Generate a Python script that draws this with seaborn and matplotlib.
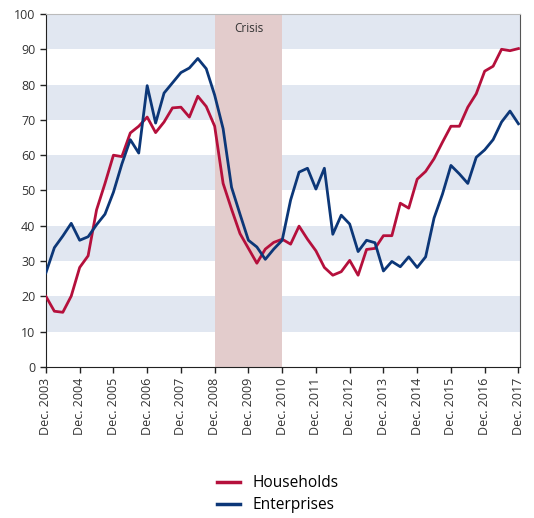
import pandas as pd
import matplotlib
matplotlib.use('Agg')
import matplotlib.pyplot as plt
import seaborn as sns

# quarterly values, Dec 2003 .. Dec 2017
years = list(range(2003, 2018))
households = [20.0, 15.8, 15.5, 20.1, 28.2, 31.5, 44.5, 52.0, 60.0, 59.6,
              66.3, 68.2, 70.8, 66.4, 69.4, 73.4, 73.6, 70.8, 76.7, 73.8,
              68.2, 52.0, 44.7, 37.8, 33.6, 29.4, 33.4, 35.3, 36.2, 34.8,
              39.9, 36.2, 32.9, 28.2, 26.0, 27.0, 30.2, 26.0, 33.3, 33.6,
              37.2, 37.2, 46.4, 45.0, 53.2, 55.4, 59.0, 63.7, 68.2, 68.2,
              73.6, 77.4, 83.8, 85.2, 90.0, 89.6, 90.2]
enterprises = [26.7, 33.8, 37.1, 40.7, 35.9, 36.9, 40.3, 43.3, 49.5, 57.5,
               64.4, 60.6, 79.7, 69.1, 77.6, 80.5, 83.4, 84.7, 87.4, 84.5,
               77.0, 67.5, 50.9, 43.3, 35.9, 34.0, 30.5, 33.4, 35.9, 47.3,
               55.2, 56.3, 50.4, 56.3, 37.6, 43.0, 40.5, 32.7, 35.9, 35.2,
               27.2, 29.9, 28.4, 31.2, 28.2, 31.2, 42.2, 49.0, 57.1, 54.7,
               52.0, 59.4, 61.5, 64.4, 69.4, 72.5, 68.9]
crisis = (2008, 2010)

plt.rcParams['font.family'] = ['Open Sans', 'DejaVu Sans']

q = list(range(len(households)))
df = pd.DataFrame({'q': q * 2,
                   'value': households + enterprises,
                   'series': ['Households'] * len(q) + ['Enterprises'] * len(q)})

fig = plt.figure(figsize=(5.34, 5.18), dpi=100)
ax = fig.add_axes([0.086, 0.2915, 0.888, 0.6815])

# banded background
for lo in range(10, 100, 20):
    ax.axhspan(lo, lo + 10, color='#e1e7f1', lw=0, zorder=0)
c0 = (crisis[0] - years[0]) * 4
c1 = (crisis[1] - years[0]) * 4
ax.axvspan(c0, c1, color='#e3cccc', lw=0, zorder=1)
ax.text((c0 + c1) / 2, 95.8, 'Crisis', ha='center', va='center', fontsize=8.5, color='#333333')

sns.lineplot(data=df, x='q', y='value', hue='series',
             palette={'Households': '#b5103c', 'Enterprises': '#0c3778'},
             linewidth=2, ax=ax, zorder=3)

ax.set_xlim(0, len(q) - 1 + 0.2)
ax.set_ylim(0, 100)
ax.set_yticks(range(0, 101, 10))
ax.set_xticks([(y - years[0]) * 4 for y in years])
ax.set_xticklabels(['Dec. %d' % y for y in years], rotation=90)
ax.tick_params(labelsize=9, colors='#333333', length=4, width=1)
ax.tick_params(axis='both', color='#222222')
ax.set_xlabel('')
ax.set_ylabel('')
ax.spines['top'].set_color('#bbbbbb')
ax.spines['right'].set_color('#555555')
ax.spines['left'].set_color('#222222')
ax.spines['bottom'].set_color('#222222')

handles, labels = ax.get_legend_handles_labels()
for h in handles:
    h.set_linewidth(2.5)
ax.get_legend().remove()
fig.legend(handles, labels, loc='center', bbox_to_anchor=(0.52, 0.046), ncol=1,
           frameon=False, fontsize=11.2, handlelength=1.5, labelspacing=0.4)

fig.savefig('out.png', dpi=100)
